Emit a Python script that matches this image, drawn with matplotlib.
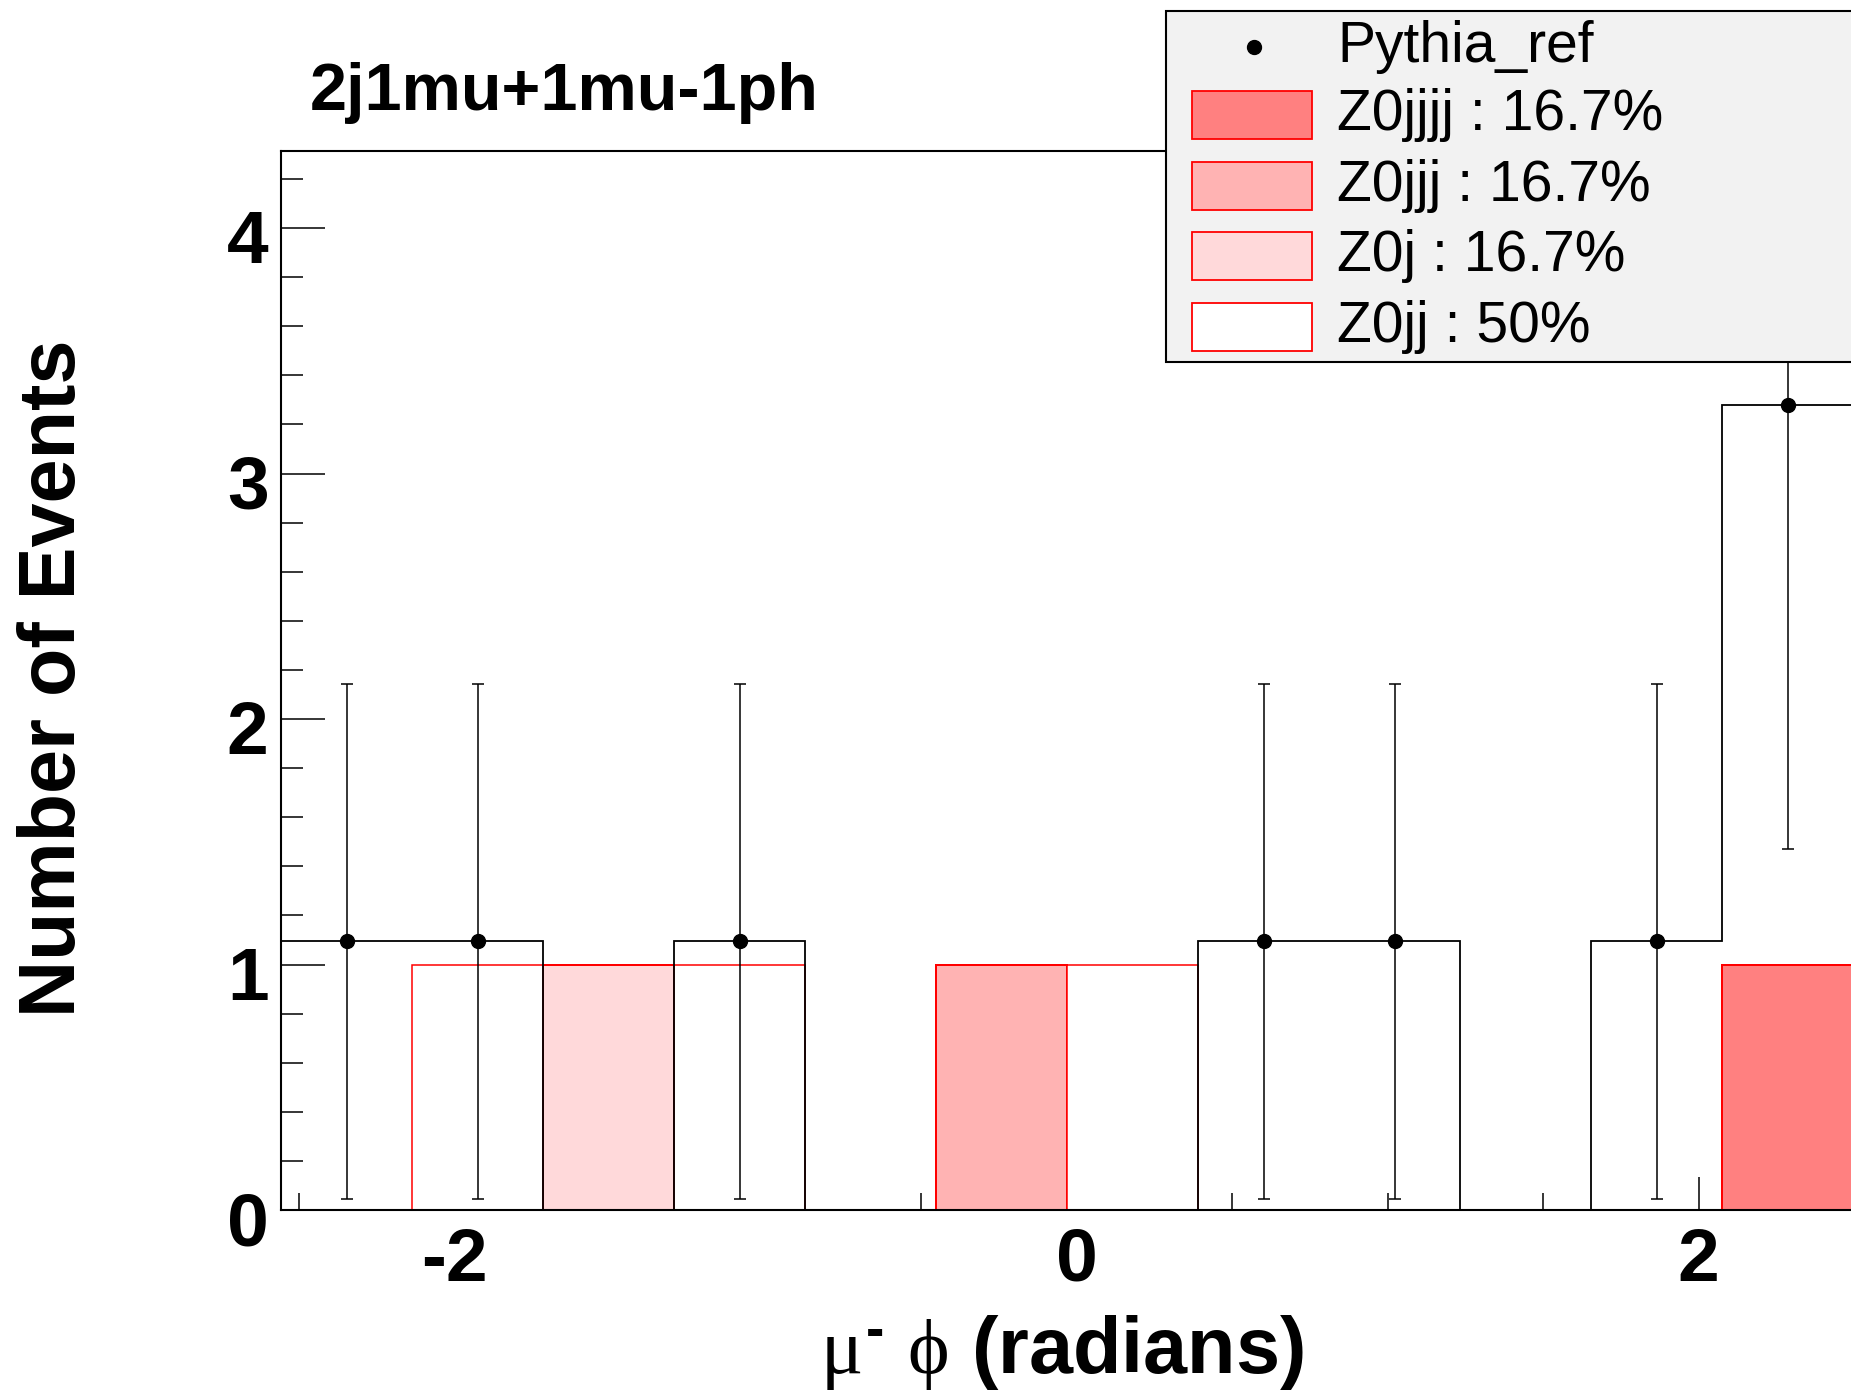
import numpy as np
import matplotlib
matplotlib.use('Agg')
import matplotlib.pyplot as plt
import matplotlib.transforms as mtransforms
from matplotlib.patches import Rectangle
from matplotlib.lines import Line2D
from matplotlib.ticker import MultipleLocator

W, H, DPI = 1851, 1394, 100

# binning of mu- phi (radians)
bin_lo, bin_w, n_bins = -2.558, 0.4212, 12

# reference sample, scaled counts per bin and their errors
pythia_ref = [1.094, 1.094, 0, 1.094, 0, 0, 0, 1.094, 1.094, 0, 1.094, 3.28]
pythia_err = [1.05, 1.05, 0, 1.05, 0, 0, 0, 1.05, 1.05, 0, 1.05, 1.81]

# stacked samples (events per bin)
z0jjjj = [0, 0, 0, 0, 0, 0, 0, 0, 0, 0, 0, 1]
z0jjj = [0, 0, 0, 0, 0, 1, 0, 0, 0, 0, 0, 0]
z0j = [0, 0, 1, 0, 0, 0, 0, 0, 0, 0, 0, 0]
z0jj = [0, 1, 0, 1, 0, 0, 1, 0, 0, 0, 0, 0]

sample_names = ['Z0jjjj', 'Z0jjj', 'Z0j', 'Z0jj']
sample_fracs = ['16.7%', '16.7%', '16.7%', '50%']
sample_colors = ['#ff8080', '#ffb3b3', '#ffd9da', '#ffffff']

title = '2j1mu+1mu-1ph'

plt.rcParams['font.family'] = ['Liberation Sans', 'DejaVu Sans']
plt.rcParams['axes.unicode_minus'] = False
plt.rcParams['mathtext.fontset'] = 'custom'
plt.rcParams['mathtext.rm'] = 'Liberation Sans:bold'
plt.rcParams['mathtext.bf'] = 'Liberation Sans:bold'
plt.rcParams['mathtext.it'] = 'Liberation Serif'


def fpx(x, y):
    # pixel position (from top left) -> figure fraction
    return x / W, 1 - y / H


fig = plt.figure(figsize=(W / DPI, H / DPI), dpi=DPI)
ax = fig.add_axes([281 / W, 184 / H, 1791 / W, 1059 / H])

edges = bin_lo + bin_w * np.arange(n_bins + 1)
centers = 0.5 * (edges[:-1] + edges[1:])

bottom = np.zeros(n_bins)
for vals, col in zip([z0jjjj, z0jjj, z0j, z0jj], sample_colors):
    vals = np.asarray(vals, dtype=float)
    ax.stairs(bottom + vals, edges, baseline=bottom.copy(), fill=True,
              facecolor=col, edgecolor='red', lw=1.1, zorder=2)
    bottom += vals

ref = np.asarray(pythia_ref)
err = np.asarray(pythia_err)
ax.stairs(ref, edges, baseline=0, color='black', lw=1.3, zorder=3)
mask = ref > 0
ax.errorbar(centers[mask], ref[mask], yerr=err[mask], fmt='o', color='black',
            ms=10, elinewidth=1.1, capsize=4, capthick=1.1, zorder=4)

ax.set_xlim(bin_lo, 3.2)
ax.set_ylim(0, 4.314)

ax.set_xticks([-2, 0, 2])
ax.xaxis.set_minor_locator(MultipleLocator(0.5))
ax.yaxis.set_major_locator(MultipleLocator(1))
ax.yaxis.set_minor_locator(MultipleLocator(0.2))
ax.tick_params(axis='x', which='major', direction='in', length=24, width=1.1,
               pad=12, labelsize=54)
ax.tick_params(axis='x', which='minor', direction='in', length=12, width=1.1)
ax.tick_params(axis='y', which='major', direction='in', length=32, width=1.1,
               pad=9, labelsize=54)
ax.tick_params(axis='y', which='minor', direction='in', length=16, width=1.1)
shift_down = mtransforms.ScaledTranslation(0, -8 / DPI, fig.dpi_scale_trans)
for lab in ax.get_yticklabels():
    lab.set_transform(lab.get_transform() + shift_down)
for lab in ax.get_xticklabels() + ax.get_yticklabels():
    lab.set_fontweight('bold')
for sp in ax.spines.values():
    sp.set_linewidth(1.5)

ax.set_xlabel(r'$\mu^{\text{-}}$ $\phi$ (radians)', fontsize=57, fontweight='bold',
              ha='right', va='baseline')
ax.xaxis.set_label_coords(0.571, -0.154)
ax.set_ylabel('Number of Events', fontsize=57, fontweight='bold',
              ha='center', va='center')
ax.yaxis.set_label_coords(-0.1267, 0.502)

fig.text(*fpx(310, 110), title, fontsize=48, fontweight='bold',
         ha='left', va='baseline')

# legend box, drawn in figure pixels
lx, ly = fpx(1166, 362)
fig.add_artist(Rectangle((lx, ly), (1900 - 1166) / W, (362 - 11) / H,
                         transform=fig.transFigure, facecolor='#f2f2f2',
                         edgecolor='black', lw=1.5, zorder=5))
fig.add_artist(Line2D([1254 / W], [1 - 47 / H], marker='o', ms=10, color='black',
                      transform=fig.transFigure, zorder=6))
fig.text(*fpx(1337, 47), 'Pythia_ref', fontsize=41, ha='left', va='center',
         zorder=6)
for i, (name, frac, col) in enumerate(zip(sample_names, sample_fracs, sample_colors)):
    yc = 115 + 70.7 * i
    px, py = fpx(1192, yc + 24)
    fig.add_artist(Rectangle((px, py), 120 / W, 48 / H, transform=fig.transFigure,
                             facecolor=col, edgecolor='red', lw=1.3, zorder=6))
    fig.text(*fpx(1337, yc), f'{name} : {frac}', fontsize=41, ha='left',
             va='center', zorder=6)

fig.savefig('out.png', dpi=DPI)
